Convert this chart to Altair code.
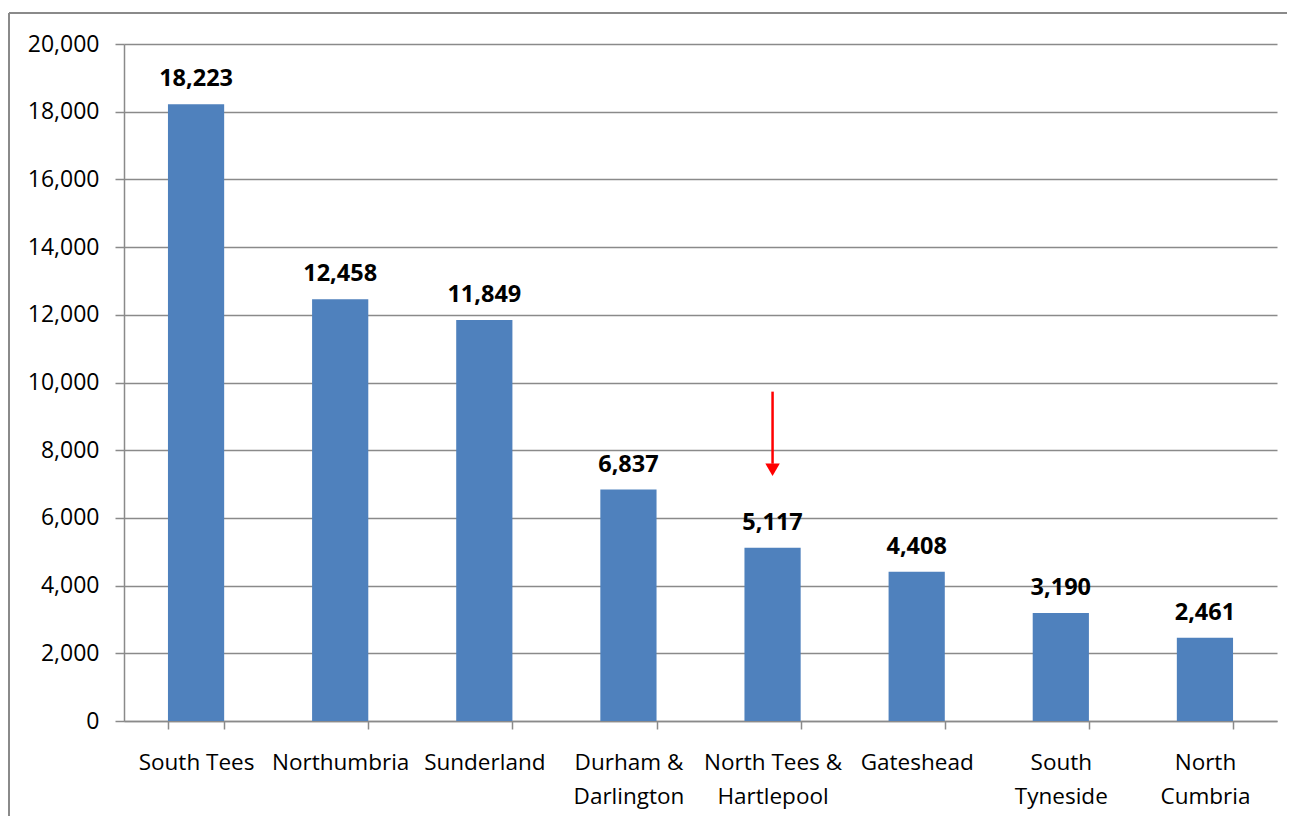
import altair as alt
import pandas as pd

categories = ["South Tees", "Northumbria", "Sunderland", "Durham &\nDarlington",
              "North Tees &\nHartlepool", "Gateshead", "South\nTyneside", "North\nCumbria"]
values = [18223, 12458, 11849, 6837, 5117, 4408, 3190, 2461]
y_ticks = list(range(0, 20001, 2000))

# annotation arrow (pointing at North Tees & Hartlepool)
arrow_cat = ["North Tees &\nHartlepool"]
arrow_top = [9730]
arrow_shaft_end = [7600]
arrow_head = [7420]

df = pd.DataFrame({"cat": categories, "val": values})
arrow_df = pd.DataFrame({"cat": arrow_cat, "top": arrow_top, "end": arrow_shaft_end, "head": arrow_head})

FONT = "Open Sans"
GRID = "#8a8a8a"
P = 0.61

xscale = alt.Scale(domain=categories, paddingInner=P, paddingOuter=P / 2)
yscale = alt.Scale(domain=[0, 20000], nice=False)

x = alt.X("cat:N", scale=xscale, sort=categories, title=None,
          axis=alt.Axis(labelAngle=0, labelFont=FONT, labelFontSize=22.5, labelColor="#000000",
                        labelExpr="split(datum.label, '\\n')", labelLineHeight=34,
                        labelPadding=22, labelBaseline="top",
                        tickBand="extent", tickSize=8, tickColor=GRID, tickWidth=1.5,
                        domainColor=GRID, domainWidth=1.5, grid=False))
y = alt.Y("val:Q", scale=yscale, title=None,
          axis=alt.Axis(values=y_ticks, labelExpr="format(datum.value, ',')",
                        labelFont=FONT, labelFontSize=23,
                        labelColor="#000000", labelPadding=16, tickSize=9, tickColor=GRID,
                        tickWidth=1.5, domainColor=GRID, domainWidth=1.5,
                        grid=True, gridColor=GRID, gridWidth=1.5))

base = alt.Chart(df)
bars = base.mark_bar(color="#4F81BD").encode(x=x, y=y)
labels = base.mark_text(font=FONT, fontSize=23.5, fontWeight="bold", color="#000000",
                        baseline="alphabetic", dy=-18).encode(
    x=alt.X("cat:N", scale=xscale, sort=categories),
    y=alt.Y("val:Q", scale=yscale),
    text=alt.Text("val:Q", format=","))

arrow_base = alt.Chart(arrow_df)
shaft = arrow_base.mark_rule(color="#FF0000", strokeWidth=2.5).encode(
    x=alt.X("cat:N", scale=xscale, sort=categories),
    y=alt.Y("top:Q", scale=yscale), y2="end:Q")
head = arrow_base.mark_point(shape="triangle-down", filled=True, color="#FF0000",
                             size=210, opacity=1).encode(
    x=alt.X("cat:N", scale=xscale, sort=categories),
    y=alt.Y("head:Q", scale=yscale))

frame_left = alt.Chart(df).mark_rule(color="#8a8a8a", strokeWidth=2).encode(
    x=alt.value(-115), y=alt.value(-31), y2=alt.value(800))
frame_top = alt.Chart(df).mark_rule(color="#8a8a8a", strokeWidth=2).encode(
    x=alt.value(-115), x2=alt.value(1300), y=alt.value(-31))

chart = alt.layer(bars, labels, shaft, head, frame_left, frame_top).properties(
    width=1153, height=677,
    autosize=alt.AutoSizeParams(type="none"),
    padding={"left": 116, "top": 36, "right": 10, "bottom": 95},
    background="#ffffff",
).configure_view(stroke=None)

chart.save("out.html", embed_options={"renderer": "svg", "actions": False})
